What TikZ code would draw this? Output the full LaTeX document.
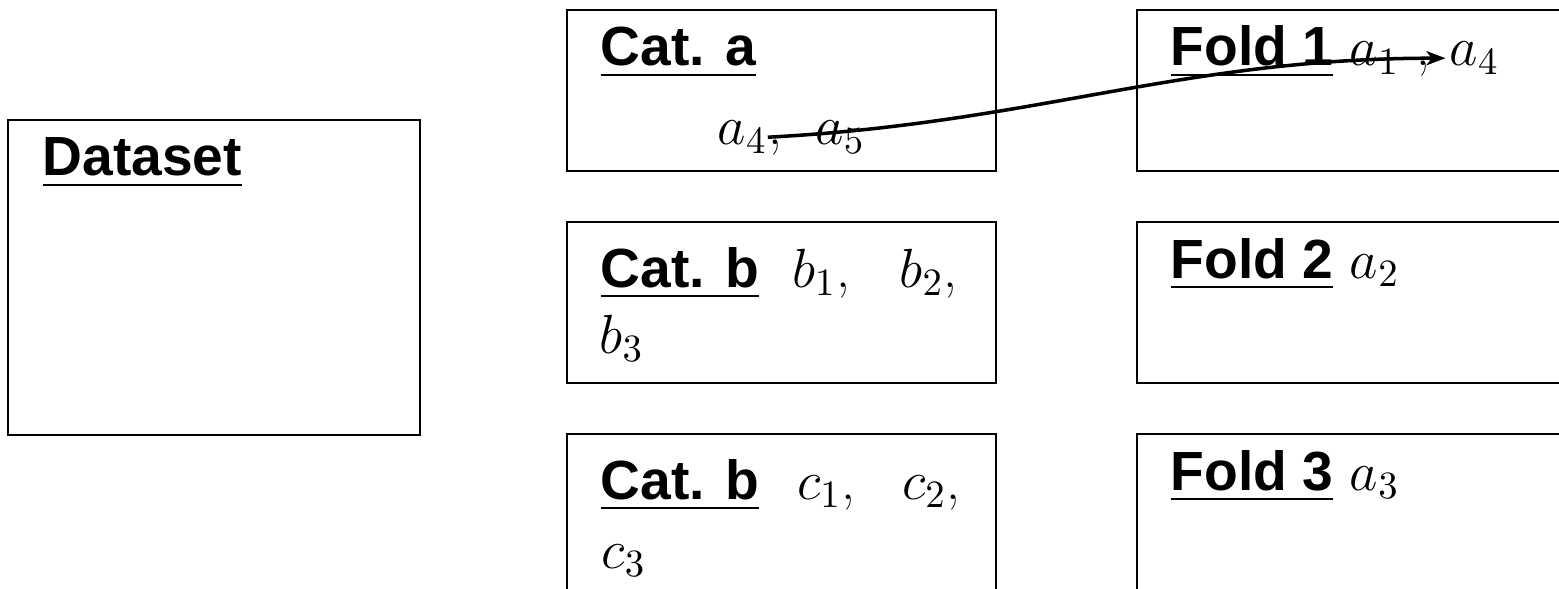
\RequirePackage{fix-cm}
\documentclass[tikz,border=0pt]{standalone}
\usepackage{fontspec}
\newfontfamily\sansbf{Liberation Sans}
\usepackage{tikz}
\usetikzlibrary{arrows.meta, positioning, calc}

\newsavebox{\titlebox}
\newcommand{\boxtitle}[1]{\sbox{\titlebox}{\sansbf\bfseries #1}\rlap{\rule[-0.10cm]{\wd\titlebox}{0.021cm}}\usebox{\titlebox}}

\begin{document}
\begin{tikzpicture}[
        font=\fontsize{15.7}{19}\selectfont,
        node distance=0.49cm and 1.39cm,
        box/.style={rectangle, draw, line width=0.6pt, minimum width=4.29cm, minimum height=1.61cm, inner sep=0pt},
        ttl/.style={anchor=base west, inner sep=0pt},
        itm/.style={anchor=base west, inner sep=0pt},
        line/.style={draw, line width=1pt, -{Stealth[length=0.19cm, width=0.14cm, inset=0.05cm]}, shorten >=1pt}
    ]
        \useasboundingbox (0,0) rectangle (15.59,-5.89);
        \clip (0,0) rectangle (15.59,-5.89);

        % Dataset
        \node[box, minimum width=4.12cm, minimum height=3.15cm] (dataset) at (2.14,-2.775) {};
        \node[ttl] (t_data) at ($(dataset.north west)+(0.35,-0.57)$) {\boxtitle{Dataset}};

        % Categories
        \node[box] (cata) at (7.815,-0.905) {};
        \node[box, below=of cata] (catb) {};
        \node[box, below=of catb] (catc) {};

        \node[ttl] (t_cata) at ($(cata.north west)+(0.34,-0.57)$) {\boxtitle{Cat. a}};
        \node[itm] (a4_src) at ($(cata.north west)+(1.51,-1.36)$) {$a_4$};
        \node[itm] (a5) at (a4_src.base east) {,\hspace{0.6em}$a_5$};

        \node[ttl] (t_catb) at ($(catb.north west)+(0.34,-0.66)$) {\boxtitle{Cat. b}\hspace{0.6em}$b_1$,\hspace{0.9em}$b_2$,};
        \node[itm] (b3) at ($(catb.north west)+(0.33,-1.32)$) {$b_3$};

        \node[ttl] (t_catc) at ($(catc.north west)+(0.34,-0.66)$) {\boxtitle{Cat. b}\hspace{0.69em}$c_1$,\hspace{0.85em}$c_2$,};
        \node[itm] (c3) at ($(catc.north west)+(0.35,-1.35)$) {$c_3$};

        % Folds
        \node[box, right=of cata] (fold1) {};
        \node[box, right=of catb] (fold2) {};
        \node[box, right=of catc] (fold3) {};

        \node[ttl] (t_fold1) at ($(fold1.north west)+(0.34,-0.57)$) {\boxtitle{Fold 1} $a_1$ ,};
        \node[itm] (a4_dst) at ($(fold1.north west)+(3.13,-0.57)$) {$a_4$};
        \node[ttl] (t_fold2) at ($(fold2.north west)+(0.34,-0.57)$) {\boxtitle{Fold 2} $a_2$};
        \node[ttl] (t_fold3) at ($(fold3.north west)+(0.34,-0.57)$) {\boxtitle{Fold 3} $a_3$};

        % Move
        \draw[line] (a4_src.east) to[out=3, in=180] (a4_dst.west);
    \end{tikzpicture}
\end{document}
